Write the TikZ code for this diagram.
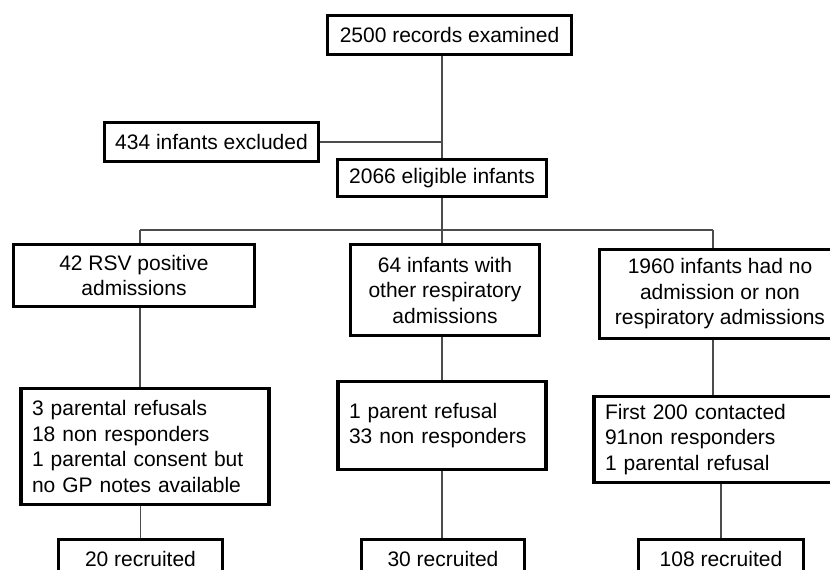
\documentclass[tikz,border=0pt]{standalone}
\usepackage{fontspec}
\setmainfont{Liberation Sans}
\usetikzlibrary{backgrounds}

\begin{document}
\begin{tikzpicture}[x=1pt, y=-1pt,
		box/.style={draw=black, line width=3.3pt, fill=white, inner xsep=11pt, inner ysep=2pt, font=\fontsize{21}{25.5}\selectfont},
		link/.style={draw=black!70, line width=1.3pt}]
		\useasboundingbox (0, 0) rectangle (830, 570);
		\clip (0, 0) rectangle (830, 570);

		\node[box, minimum width=243.7, minimum height=38.7] (records) at (449.5, 35) {2500 records examined};
		\node[box, minimum width=199.7, minimum height=38.7] (excluded) at (211.5, 142) {434 infants excluded};
		\node[box, minimum width=208.7, minimum height=36.7] (eligible) at (442, 178) {2066 eligible infants};

		\node[box, align=center, minimum width=240.7, minimum height=61.7] (rsv) at (134, 275.5) {42 RSV positive\\admissions};
		\node[box, align=center, minimum width=188.7, minimum height=90.7] (other) at (445, 290) {64 infants with\\other respiratory\\admissions};
		\node[box, align=center, minimum width=240.7, minimum height=88.7] (none) at (720, 294) {1960 infants had no\\admission or non\\respiratory admissions};

		\node[box, align=left, text width=226, minimum height=115.7] (rsvloss) at (145, 446.5) {3 parental refusals\\18 non responders\\1 parental consent but\\no GP notes available};
		\node[box, align=left, text width=186, minimum height=87.7] (otherloss) at (442, 425.5) {1 parent refusal\\33 non responders\\[25.5pt]};
		\node[box, align=left, text width=232, minimum height=85.7] (noneloss) at (721, 439.5) {First 200 contacted\\91non responders\\1 parental refusal};

		\node[box, minimum width=163.7, minimum height=38.7] (rsvin) at (140.5, 559) {20 recruited};
		\node[box, minimum width=162.7, minimum height=38.7] (otherin) at (443, 559) {30 recruited};
		\node[box, minimum width=164.7, minimum height=38.7] (nonein) at (721, 559) {108 recruited};

		\coordinate (split1) at (140, 230);
		\coordinate (split3) at (713, 230);

		\begin{pgfonlayer}{background}
			\draw[link] (eligible.north |- records.south) -- (eligible.north);
			\draw[link] (excluded.east) -- (excluded.east -| eligible.north);
			\draw[link] (eligible.south) -- (eligible.south |- split1);
			\draw[link] (split1) -- (split3);

			\draw[link] (split1) -- (split1 |- rsv.north);
			\draw[link] (rsv.south -| split1) -- (rsvloss.north -| split1);
			\draw[link] (rsvloss.south -| rsvin.north) -- (rsvin.north);

			\draw[link] (eligible.south |- split1) -- (other.north -| eligible.south);
			\draw[link] (other.south -| otherloss.north) -- (otherloss.north);
			\draw[link] (otherloss.south) -- (otherloss.south |- otherin.north);

			\draw[link] (split3) -- (split3 |- none.north);
			\draw[link] (none.south -| split3) -- (noneloss.north -| split3);
			\draw[link] (noneloss.south -| nonein.north) -- (nonein.north);
		\end{pgfonlayer}
	\end{tikzpicture}
\end{document}
